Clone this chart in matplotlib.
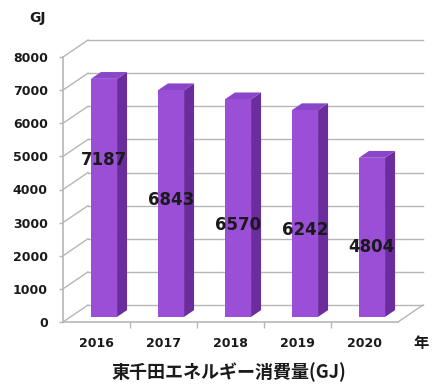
import matplotlib
matplotlib.use("Agg")
import matplotlib.pyplot as plt
from matplotlib.patches import Polygon

# Energy consumption at Higashi-Senda campus (GJ)
years = ["2016", "2017", "2018", "2019", "2020"]
consumption = [7187, 6843, 6570, 6242, 4804]
y_ticks = [0, 1000, 2000, 3000, 4000, 5000, 6000, 7000, 8000]

plt.rcParams["font.family"] = ["DejaVu Sans"]
CJK = ["Noto Sans CJK JP", "DejaVu Sans"]

fig = plt.figure(figsize=(4.42, 3.85), dpi=100)
# front plane of the 3-D box
ax = fig.add_axes([63 / 442, 63 / 385, 335 / 442, 265 / 385])
ax.set_xlim(-0.5, len(years) - 0.5)
ax.set_ylim(0, 8000)
for s in ax.spines.values():
    s.set_visible(False)

# oblique depth vector (category units, GJ)
DX, DY = 0.373, 513
GRID = "#b6b6b6"
n = len(years)
x0, x1 = -0.5, n - 0.5

# back wall gridlines and left wall diagonals
for v in y_ticks:
    ax.plot([x0 + DX, x1 + DX], [v + DY, v + DY], color=GRID, lw=1.0,
            clip_on=False, zorder=1)
    ax.plot([x0, x0 + DX], [v, v + DY], color=GRID, lw=1.0,
            clip_on=False, zorder=1)
# left wall front edge, floor front edge and floor right edge
ax.plot([x0, x0], [0, y_ticks[-1]], color=GRID, lw=1.2, clip_on=False, zorder=1)
ax.plot([x0, x1], [0, 0], color=GRID, lw=1.2, clip_on=False, zorder=1)
ax.plot([x1, x1 + DX], [0, DY], color=GRID, lw=1.0, clip_on=False, zorder=1)

# 3-D bars
FRONT, SIDE, TOP = "#9a4fd6", "#6b2c9e", "#8a45c8"
W = 0.39
d0, d1 = 0.30, 0.70
for i, v in enumerate(consumption):
    fx0 = i - W / 2 + d0 * DX
    fx1 = i + W / 2 + d0 * DX
    fy = d0 * DY
    bx = (d1 - d0) * DX
    by = (d1 - d0) * DY
    side = [(fx1, fy), (fx1 + bx, fy + by), (fx1 + bx, fy + by + v), (fx1, fy + v)]
    top = [(fx0, fy + v), (fx1, fy + v), (fx1 + bx, fy + by + v), (fx0 + bx, fy + by + v)]
    front = [(fx0, fy), (fx1, fy), (fx1, fy + v), (fx0, fy + v)]
    ax.add_patch(Polygon(side, closed=True, fc=SIDE, ec="none", zorder=3, clip_on=False))
    ax.add_patch(Polygon(top, closed=True, fc=TOP, ec="none", zorder=3, clip_on=False))
    ax.add_patch(Polygon(front, closed=True, fc=FRONT, ec="none", zorder=4, clip_on=False))

# value labels
label_y = [4890, 3690, 2930, 2790, 2270]
for i, (v, ly) in enumerate(zip(consumption, label_y)):
    ax.text(i + 0.11, ly, f"{v}", ha="center", va="center", fontsize=12,
            fontweight="bold", color="#1a1a1a", zorder=6)

# axes ticks
ax.set_yticks(y_ticks)
ax.set_yticklabels([str(t) for t in y_ticks], fontsize=9, fontweight="bold",
                   color="#1a1a1a")
ax.tick_params(axis="y", length=3, width=1, color=GRID, pad=8)
ax.set_xticks(range(n))
ax.set_xticklabels(years, fontsize=9, fontweight="bold", color="#1a1a1a")
ax.set_xticks([i + 0.5 for i in range(n - 1)], minor=True)
ax.tick_params(axis="x", which="major", length=0, pad=11)
ax.tick_params(axis="x", which="minor", length=4, width=1, color=GRID)

fig.text(37 / 442, 1 - 18 / 385, "GJ", ha="center", va="center", fontsize=10,
         fontweight="bold", color="#1a1a1a")
fig.text(421 / 442, 1 - 343 / 385, "年", ha="center", va="center", fontsize=11,
         fontweight="bold", family=CJK, color="#1a1a1a")
fig.text(229 / 442, 1 - 372 / 385, "東千田エネルギー消費量(GJ)", ha="center",
         va="center", fontsize=13, fontweight="bold", family=CJK, color="#1a1a1a")

fig.savefig("out.png", dpi=100, facecolor="white")
